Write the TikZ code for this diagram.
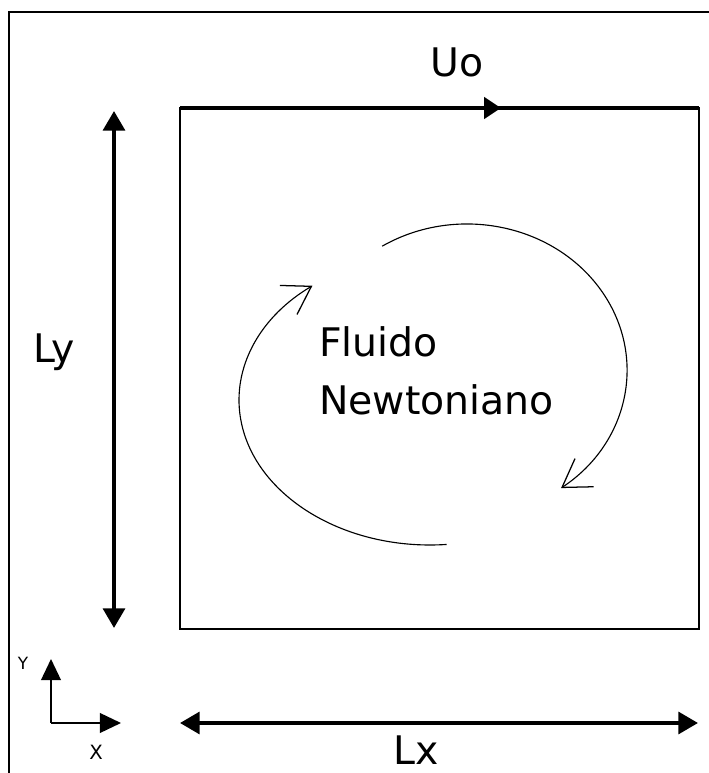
\documentclass[tikz,border=0pt]{standalone}
\usepackage{fontspec}
\setmainfont{DejaVu Sans}
\usetikzlibrary{arrows.meta}

\tikzset{
  big/.style={font=\fontsize{28}{34}\selectfont, inner sep=0pt},
  small/.style={font=\fontsize{12}{14}\selectfont, inner sep=0pt},
  thick arrow/.style={line width=2.8pt, {Triangle[length=14pt,width=15.5pt]}-{Triangle[length=14pt,width=15.5pt]}},
  axis/.style={line width=1.3pt, -{Triangle[length=15pt,width=14pt]}},
  swirl/.style={line width=0.8pt, -{Straight Barb[length=19pt,width=24pt,line width=0.9pt]}}
}

\begin{document}
\begin{tikzpicture}[x=0.025cm, y=0.025cm]
  \useasboundingbox (0,0) rectangle (708,773);
  % frame
  \draw[line width=1.4pt] (9,-5) -- (9,761) -- (715,761);
  % cavity
  \coordinate (sw) at (180,144);
  \coordinate (ne) at (699,665);
  \coordinate (nw) at (180,665);
  \coordinate (mid) at (501,665);
  \draw[line width=1pt] (sw) rectangle (ne);
  % moving lid
  \draw[line width=2.8pt, -{Triangle[length=12pt,width=15pt]}] (nw) -- (mid);
  \draw[line width=2.8pt] (485,665) -- (ne);
  \node[big, anchor=base] (uo) at (457,696) {Uo};
  % height
  \coordinate (ytop) at (114,662);
  \coordinate (ybot) at (114,145);
  \draw[thick arrow] (ybot) -- (ytop);
  \node[big, anchor=base] (ly) at (54,410) {Ly};
  % width
  \coordinate (xl) at (180,50);
  \coordinate (xr) at (698,50);
  \draw[thick arrow] (xl) -- (xr);
  \node[big, anchor=base] (lx) at (416,8) {Lx};
  % axes
  \coordinate (o) at (51,50);
  \coordinate (oy) at (51,114);
  \coordinate (ox) at (121,50);
  \draw[axis] (o) -- (oy);
  \draw[axis] (o) -- (ox);
  \node[small] (ylab) at (23,110) {Y};
  \node[small, font=\fontsize{14}{16}\selectfont] (xlab) at (96,21) {X};
  % fluid
  \node[big, anchor=base west] (fl1) at (319,416) {Fluido};
  \node[big, anchor=base west] (fl2) at (319,358) {Newtoniano};
  \draw[swirl] (467,403) ++(122:160 and 146) arc[start angle=122, end angle=-54, x radius=160, y radius=146];
  \draw[swirl] (430,373) ++(275:191 and 145) arc[start angle=275, end angle=128, x radius=191, y radius=145];
\end{tikzpicture}
\end{document}
